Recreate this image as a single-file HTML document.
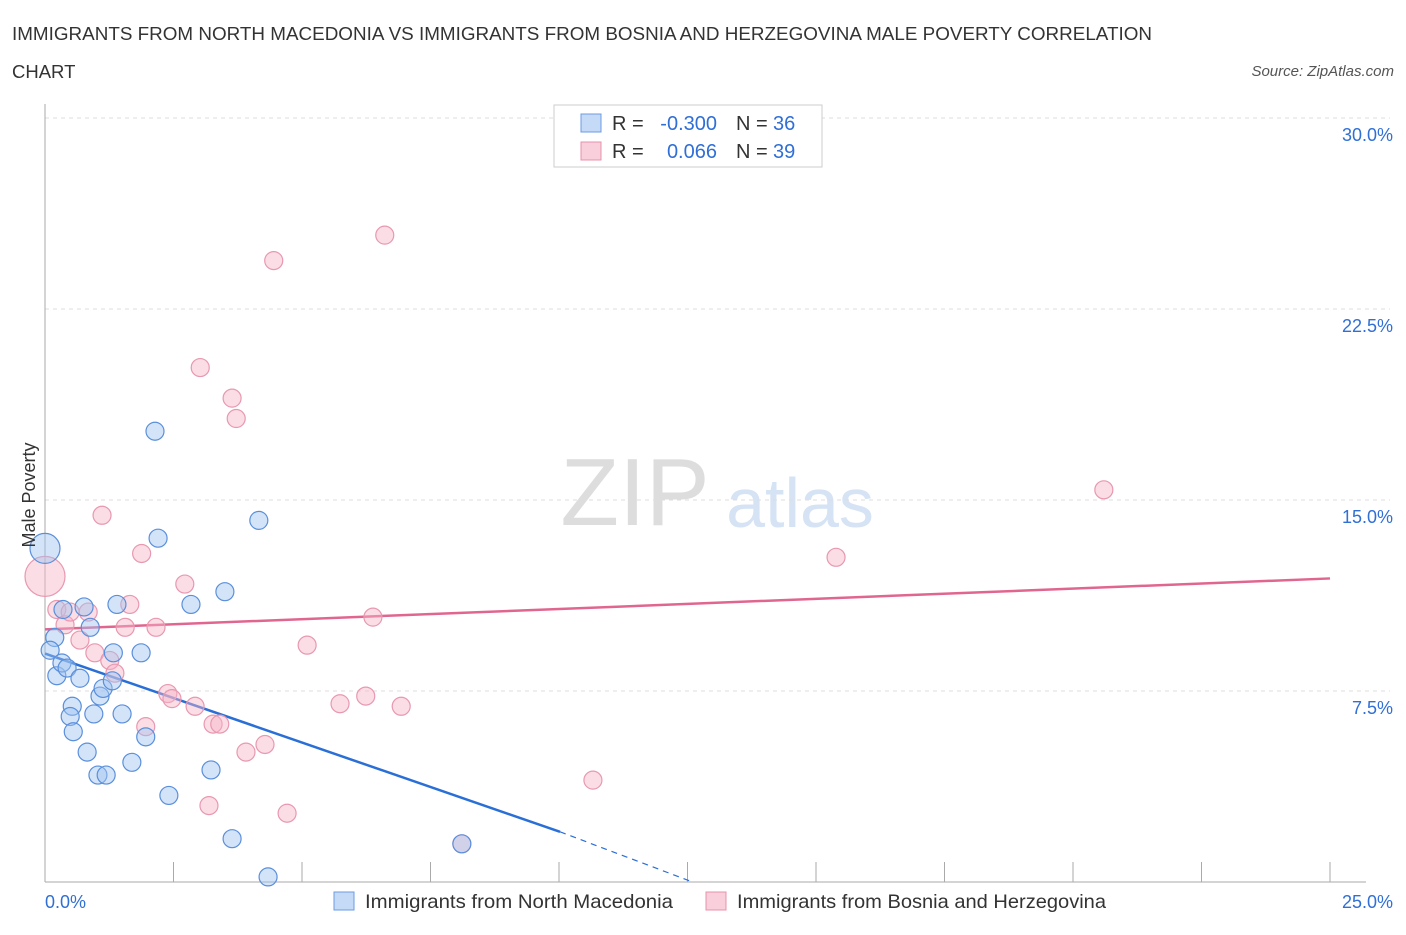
<!DOCTYPE html>
<html><head><meta charset="utf-8">
<style>
body{margin:0;background:#fff;font-family:"Liberation Sans",sans-serif;}
svg text{font-family:"Liberation Sans",sans-serif;}
</style></head>
<body>
<svg id="chart" width="1406" height="930">
<text x="12" y="40" font-size="18.5" fill="#333" textLength="1140" lengthAdjust="spacingAndGlyphs">IMMIGRANTS FROM NORTH MACEDONIA VS IMMIGRANTS FROM BOSNIA AND HERZEGOVINA MALE POVERTY CORRELATION</text>
<text x="12" y="78" font-size="18.5" fill="#333">CHART</text>
<text x="1394" y="76" font-size="15" fill="#555" font-style="italic" text-anchor="end">Source: ZipAtlas.com</text>
<text x="635" y="525" font-size="96" fill="#ddd" font-family="Liberation Serif" text-anchor="middle">ZIP</text>
<text x="800" y="527" font-size="70" fill="#d5e3f5" text-anchor="middle">atlas</text>
<g id="grid"></g>
<g id="axes"></g>
<g id="lines"></g>
<g id="pts"></g>
<text x="35" y="495" font-size="18" fill="#333" transform="rotate(-90 35 495)" text-anchor="middle">Male Poverty</text>
<g>
<rect x="554" y="105" width="268" height="62" fill="#fff" stroke="#ccc"/>
<rect x="581" y="114" width="20" height="18" fill="#c5daf7" stroke="#6a9be0"/>
<text x="612" y="130" font-size="20" fill="#333">R =</text>
<text x="717" y="130" font-size="20" fill="#2f6fd6" text-anchor="end">-0.300</text>
<text x="736" y="130" font-size="20" fill="#333">N =</text>
<text x="773" y="130" font-size="20" fill="#2f6fd6">36</text>
<rect x="581" y="142" width="20" height="18" fill="#f9cfdc" stroke="#e890aa"/>
<text x="612" y="158" font-size="20" fill="#333">R =</text>
<text x="717" y="158" font-size="20" fill="#2f6fd6" text-anchor="end">0.066</text>
<text x="736" y="158" font-size="20" fill="#333">N =</text>
<text x="773" y="158" font-size="20" fill="#2f6fd6">39</text>
</g>
<g>
<rect x="334" y="892" width="20" height="18" fill="#c5daf7" stroke="#6a9be0"/>
<text x="365" y="908" font-size="19.5" fill="#333" textLength="308" lengthAdjust="spacingAndGlyphs">Immigrants from North Macedonia</text>
<rect x="706" y="892" width="20" height="18" fill="#f9cfdc" stroke="#e890aa"/>
<text x="737" y="908" font-size="19.5" fill="#333" textLength="369" lengthAdjust="spacingAndGlyphs">Immigrants from Bosnia and Herzegovina</text>
</g>
</svg>
<script>
const yTicks=[7.5,15,22.5,30];
const yTickLabels=["7.5%","15.0%","22.5%","30.0%"];
const blueX=[0,0.19,0.1,0.23,0.33,0.43,0.53,0.49,0.55,0.68,0.76,0.35,0.88,0.95,1.07,1.13,1.03,1.19,0.82,1.31,1.33,1.4,1.5,1.69,1.87,1.96,2.14,2.2,2.41,2.84,3.23,3.5,3.64,4.16,4.34,8.11];
const blueY=[13.1,9.6,9.1,8.1,8.6,8.4,6.9,6.5,5.9,8.0,10.8,10.7,10.0,6.6,7.3,7.6,4.2,4.2,5.1,7.9,9.0,10.9,6.6,4.7,9.0,5.7,17.7,13.5,3.4,10.9,4.4,11.4,1.7,14.2,0.2,1.5];
const pinkX=[0,0.23,0.39,0.49,0.68,0.84,0.97,1.11,1.26,1.36,1.56,1.65,1.88,1.96,2.16,2.39,2.47,2.72,2.92,3.02,3.19,3.27,3.4,3.64,3.72,3.91,4.28,4.45,4.71,5.1,5.74,6.24,6.38,6.61,6.93,8.11,10.66,15.39,20.6];
const pinkY=[12.0,10.7,10.1,10.6,9.5,10.6,9.0,14.4,8.7,8.2,10.0,10.9,12.9,6.1,10.0,7.4,7.2,11.7,6.9,20.2,3.0,6.2,6.2,19.0,18.2,5.1,5.4,24.4,2.7,9.3,7.0,7.3,10.4,25.4,6.9,1.5,4.0,12.75,15.4];
const blueTrend=[[0,8.97],[10.02,1.97],[12.6,0]];
const pinkTrend=[[0,9.92],[25,11.92]];
const X0=45,X1=1330,Y0=882,Y1=118;
const sx=v=>X0+(v/25)*(X1-X0), sy=v=>Y0-(v/30)*(Y0-Y1);
const NS="http://www.w3.org/2000/svg";
function mk(p,t,a){const e=document.createElementNS(NS,t);for(const k in a)e.setAttribute(k,a[k]);p.appendChild(e);return e;}
const grid=document.getElementById('grid'),axes=document.getElementById('axes'),lines=document.getElementById('lines'),pts=document.getElementById('pts');
yTicks.forEach((t,i)=>{
 const g=mk(grid,'line',{x1:X0,x2:X1+60,y1:sy(t),y2:sy(t),stroke:'#ddd','stroke-dasharray':'4,4'});
 
 
 const l=mk(grid,'text',{x:1393,y:sy(t)+23,'font-size':18,fill:'#2f6fd6','text-anchor':'end'});
 l.textContent=yTickLabels[i];
 
 
});
mk(axes,'line',{x1:X0,x2:X0,y1:104,y2:Y0,stroke:'#aaa'});
mk(axes,'line',{x1:X0,x2:1366,y1:Y0,y2:Y0,stroke:'#aaa'});
for(let i=1;i<=10;i++){const x=X0+i*128.5;const t=mk(axes,'line',{x1:x,x2:x,y1:862,y2:Y0,stroke:'#aaa'});
 
 }
let a=mk(axes,'text',{x:45,y:908,'font-size':18,fill:'#2f6fd6'});a.textContent='0.0%';


a=mk(axes,'text',{x:1393,y:908,'font-size':18,fill:'#2f6fd6','text-anchor':'end'});a.textContent='25.0%';


function dot(x,y,r,fill,stroke,name){const c=mk(pts,'circle',{cx:sx(x),cy:sy(y),r:r,fill:fill,stroke:stroke,'stroke-width':1.2});
 
 }
pinkX.forEach((x,i)=>dot(x,pinkY[i],i===0?20:9,'rgba(246,180,200,0.45)','#e898b0','point-bosnia'));
blueX.forEach((x,i)=>dot(x,blueY[i],i===0?15:9,'rgba(160,195,240,0.45)','#5a8fdc','point-macedonia'));
let l1=mk(lines,'line',{x1:sx(blueTrend[0][0]),y1:sy(blueTrend[0][1]),x2:sx(blueTrend[1][0]),y2:sy(blueTrend[1][1]),stroke:'#2a6fd6','stroke-width':2.5});


let l2=mk(lines,'line',{x1:sx(blueTrend[1][0]),y1:sy(blueTrend[1][1]),x2:sx(blueTrend[2][0]),y2:sy(blueTrend[2][1]),stroke:'#2a6fd6','stroke-width':1.2,'stroke-dasharray':'6,5'});


let l3=mk(lines,'line',{x1:sx(pinkTrend[0][0]),y1:sy(pinkTrend[0][1]),x2:sx(pinkTrend[1][0]),y2:sy(pinkTrend[1][1]),stroke:'#e06690','stroke-width':2.5});


</script>
</body></html>
